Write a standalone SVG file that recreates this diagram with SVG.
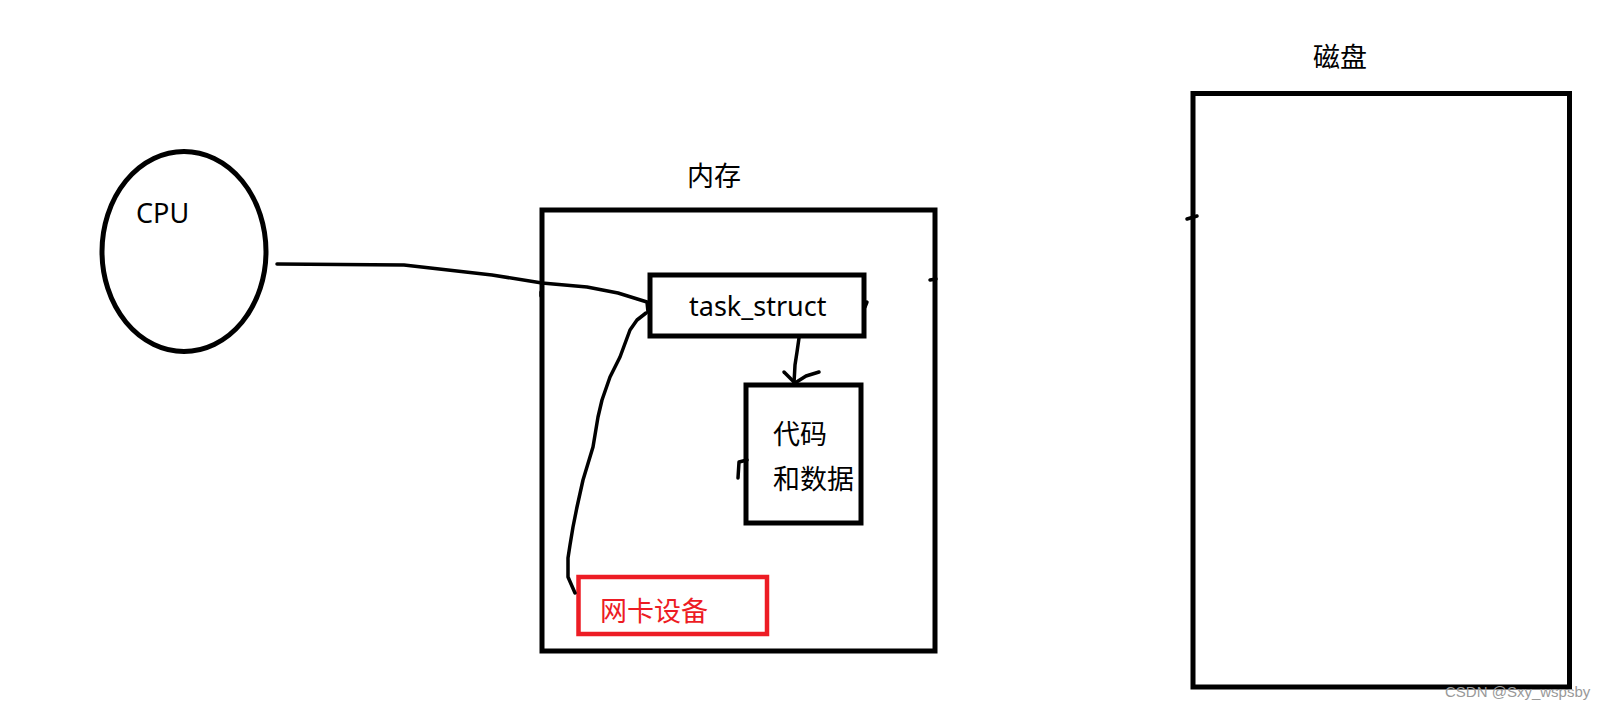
<svg xmlns="http://www.w3.org/2000/svg" width="1604" height="708" viewBox="0 0 1604 708">
<style>
.box{fill:none;stroke:#000;stroke-width:5}
.red{fill:none;stroke:#ED1C24;stroke-width:4.5}
.ln{fill:none;stroke:#000;stroke-width:3.5;stroke-linecap:round;stroke-linejoin:round}
.t{font-family:"Noto Sans","Noto Sans CJK SC",sans-serif;font-size:27px;fill:#000}
.wm{font-family:"Liberation Sans",Arial,sans-serif;font-size:15px;fill:#999}
</style>
<rect width="1604" height="708" fill="#fff"/>
<g id="cpu">
<ellipse cx="184" cy="251.5" rx="82" ry="100" class="box" stroke-width="4.5"/>
<text x="136" y="223" class="t">CPU</text>
</g>
<g id="memory">
<rect x="542" y="210" width="393" height="441" class="box"/>
<text x="687" y="186" class="t">内存</text>
</g>
<g id="task_struct">
<rect x="650" y="275" width="214" height="61" class="box"/>
<text x="689" y="316" class="t">task_struct</text>
</g>
<g id="code_data">
<rect x="746" y="385" width="115" height="138" class="box"/>
<text x="773" y="444" class="t">代码</text>
<text x="773" y="489" class="t">和数据</text>
</g>
<g id="nic">
<rect x="578.5" y="577" width="188.5" height="57" class="red"/>
<text x="600" y="621" class="t" style="fill:#ED1C24">网卡设备</text>
</g>
<g id="disk">
<rect x="1193" y="93.5" width="376.5" height="593.5" class="box"/>
<text x="1313" y="67" class="t">磁盘</text>
</g>
<g id="connectors">
<path class="ln" d="M277 264 L404 265 L492 275 L542 283 L587 287 L618 293 L647 302 L648 312"/>
<path class="ln" d="M646 313 L637 320 L630 330 L620 357 L610 377 L602 400 L598 417 L593 447 L583 480 L577 507 L573 527 L570 545 L568 558 L568 577 L575 593"/>
<path class="ln" d="M799 338 L797 352 L795 365 L794 383"/>
<path class="ln" d="M784 372 L794 382"/>
<path class="ln" d="M819 372 L806 376 L795 383"/>
<path class="ln" d="M738 478 L739 462 L747 460"/>
<path class="ln" d="M867 302 L865 307"/>
<path class="ln" d="M930 280 L936 279"/>
<path class="ln" d="M1187 219 L1197 216"/>
<path class="ln" d="M541 292 L541 296"/>
</g>
<text x="1445" y="697" class="wm">CSDN @Sxy_wspsby</text>
</svg>
